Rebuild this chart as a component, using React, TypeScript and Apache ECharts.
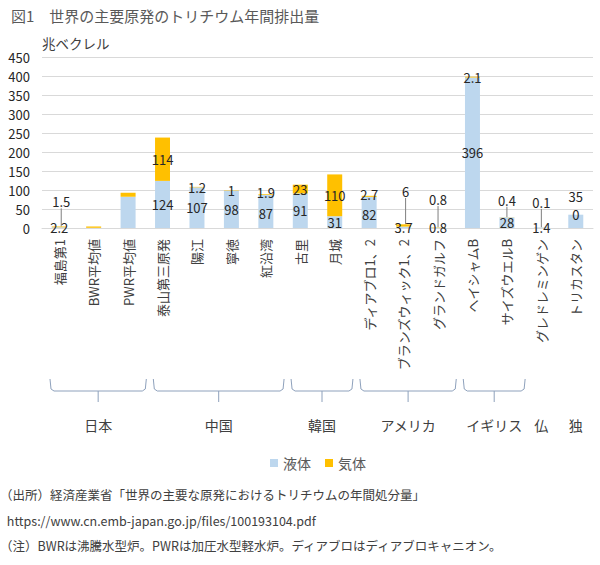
import React, { useEffect, useRef } from 'react';
import * as echarts from 'echarts';

const categories = [
  '福島第1', 'BWR平均値', 'PWR平均値', '泰山第三原発', '陽江', '寧徳', '紅沿湾', '古里', '月城',
  'ディアブロ1、2', 'ブランズウィック1、2', 'グランドガルフ', 'ヘイシャムB', 'サイズウエルB', 'グレドレミンゲン', 'トリカスタン',
];
const liquidValues = [2.2, 0.5, 82, 124, 107, 98, 87, 91, 31, 82, 3.7, 0.8, 396, 28, 1.4, 35];
const gasValues = [1.5, 3.5, 11, 114, 1.2, 1, 1.9, 23, 110, 2.7, 6, 0.8, 2.1, 0.4, 0.1, 0];
const seriesNames = ['液体', '気体'];

const yMin = 0;
const yMax = 450;
const yInterval = 50;

const groupNames = ['日本', '中国', '韓国', 'アメリカ', 'イギリス', '仏', '独'];
const groupFirst = [0, 3, 7, 9, 12, 14, 15];
const groupLast = [2, 6, 8, 11, 13, 14, 15];

const titleText = '図1　世界の主要原発のトリチウム年間排出量';
const unitText = '兆ベクレル';
const footnotes = [
  '（出所）経済産業省「世界の主要な原発におけるトリチウムの年間処分量」',
  ' https://www.cn.emb-japan.go.jp/files/100193104.pdf',
  '（注）BWRは沸騰水型炉。PWRは加圧水型軽水炉。ディアブロはディアブロキャニオン。',
];

// label styling (not data)
const hiddenLabelIdx = [1, 2];
const liquidShift: Record<number, [number, number]> = { 15: [0, -25], 9: [0, 2], 6: [0, 2] };
const gasShift: Record<number, [number, number]> = {
  0: [2, -25], 6: [0, -2], 9: [0, -2], 10: [2, -34], 11: [0, -28], 13: [0, -17], 14: [0, -25],
};
const lineIdx = [0, 10, 11, 13, 14];

const FONT = "'Noto Sans CJK JP', 'Noto Sans', sans-serif";
const BLUE = '#BDD7EE';
const ORANGE = '#FFC000';
const BRACE = '#8EA1BC';

export default function App() {
  const ref = useRef<HTMLDivElement>(null);

  useEffect(() => {
    const chart = echarts.init(ref.current!, null, { renderer: 'svg' });

    const build = (vals: number[], line: boolean) =>
      vals.map((v, i) => {
        if (hiddenLabelIdx.includes(i)) {
          return { value: v, label: { show: false }, labelLine: { show: false } };
        }
        return { value: v, labelLine: { show: line && lineIdx.includes(i) } };
      });

    const shiftFn = (shift: Record<number, [number, number]>) => (p: any) => {
      const s = shift[p.dataIndex];
      return s ? { dx: s[0], dy: s[1] } : {};
    };

    const labelStyle = {
      show: true,
      position: 'inside',
      color: '#262626',
      fontSize: 13,
      fontFamily: FONT,
    };

    chart.setOption({
      animation: false,
      backgroundColor: '#ffffff',
      textStyle: { fontFamily: FONT },
      title: {
        text: titleText,
        left: 6,
        top: 3,
        textStyle: { fontSize: 15, fontWeight: 'normal', color: '#595959', fontFamily: FONT },
      },
      legend: {
        data: seriesNames,
        top: 451,
        left: 265,
        icon: 'rect',
        itemWidth: 8,
        itemHeight: 8,
        itemGap: 14,
        textStyle: { fontSize: 14, color: '#595959', fontFamily: FONT },
      },
      grid: { left: 42, right: 7, top: 57, bottom: 337 },
      xAxis: {
        type: 'category',
        data: categories,
        axisLine: { lineStyle: { color: '#D9D9D9' } },
        axisTick: { show: false },
        axisLabel: {
          interval: 0,
          rotate: 90,
          margin: 11,
          fontSize: 13,
          color: '#404040',
          fontFamily: FONT,
        },
      },
      yAxis: {
        type: 'value',
        min: yMin,
        max: yMax,
        interval: yInterval,
        name: unitText,
        nameLocation: 'end',
        nameGap: 14,
        nameTextStyle: { align: 'left', verticalAlign: 'middle', fontSize: 13.5, color: '#404040', fontFamily: FONT },
        axisLine: { show: false },
        axisTick: { show: false },
        axisLabel: { fontSize: 13, color: '#262626', margin: 12, fontFamily: FONT },
        splitLine: { lineStyle: { color: '#D9D9D9' } },
      },
      series: [
        {
          name: seriesNames[0],
          type: 'bar',
          stack: 'total',
          barWidth: 15,
          itemStyle: { color: BLUE },
          label: labelStyle,
          labelLayout: shiftFn(liquidShift),
          labelLine: { show: false },
          data: build(liquidValues, false),
        },
        {
          name: seriesNames[1],
          type: 'bar',
          stack: 'total',
          barWidth: 15,
          itemStyle: { color: ORANGE },
          label: labelStyle,
          labelLayout: shiftFn(gasShift),
          labelLine: { show: true, lineStyle: { color: '#7F7F7F', width: 1 } },
          data: build(gasValues, true),
        },
      ],
    });

    const px = (i: number) => chart.convertToPixel({ xAxisIndex: 0 }, i) as number;
    const band = px(1) - px(0);
    const graphics: any[] = [];
    groupNames.forEach((name, g) => {
      const a = groupFirst[g];
      const b = groupLast[g];
      let cx: number;
      if (b > a) {
        const x1 = px(a) - band / 2 + 8;
        const x2 = px(b) + band / 2 + 1;
        cx = (x1 + x2) / 2;
        graphics.push({
          type: 'polyline',
          silent: true,
          shape: { points: [[x1, 379], [x1 + 1, 389], [x1 + 4, 391], [x2 - 4, 391], [x2 - 1, 389], [x2, 379]] },
          style: { stroke: BRACE, fill: null, lineWidth: 1 },
        });
        graphics.push({
          type: 'polyline',
          silent: true,
          shape: { points: [[cx, 391], [cx, 402]] },
          style: { stroke: BRACE, fill: null, lineWidth: 1 },
        });
      } else {
        cx = px(a);
      }
      graphics.push({
        type: 'text',
        x: cx,
        y: 425,
        style: { text: name, fontSize: 14, fill: '#404040', fontFamily: FONT, align: 'center', verticalAlign: 'middle' },
      });
    });
    const footY = [494, 520, 545];
    footnotes.forEach((t, i) => {
      graphics.push({
        type: 'text',
        x: i === 1 ? 4 : 0,
        y: footY[i],
        style: { text: t, fontSize: 12.5, fill: '#404040', fontFamily: FONT, align: 'left', verticalAlign: 'middle' },
      });
    });
    chart.setOption({ graphic: graphics });

    return () => chart.dispose();
  }, []);

  return (
    <div
      ref={ref}
      style={{ position: 'fixed', left: 0, top: 0, width: 600, height: 565, background: '#fff' }}
    />
  );
}
